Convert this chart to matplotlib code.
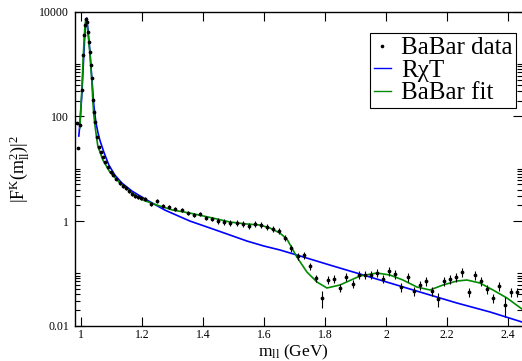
import numpy as np
import matplotlib
matplotlib.use("Agg")
import matplotlib.pyplot as plt
from matplotlib.lines import Line2D

plt.rcParams['font.family'] = ['Liberation Serif', 'DejaVu Serif']
plt.rcParams['mathtext.fontset'] = 'custom'
plt.rcParams['mathtext.rm'] = 'Liberation Serif'
plt.rcParams['mathtext.it'] = 'Liberation Serif'

##############
# BaBar data #
##############

data_m = [0.9869, 0.9902, 0.9967, 1.0033, 1.0066, 1.0098, 1.0131, 1.0164, 1.0197, 1.0229,
          1.0262, 1.0295, 1.0328, 1.0360, 1.0393, 1.0426, 1.0459, 1.0524, 1.0590, 1.0655,
          1.0721, 1.0786, 1.0885, 1.0983, 1.1048, 1.1147, 1.1278, 1.1376, 1.1474, 1.1573,
          1.1671, 1.1769, 1.1868, 1.1966,
          1.21, 1.23, 1.25, 1.27, 1.29, 1.31, 1.33, 1.35, 1.37, 1.39,
          1.41, 1.43, 1.45, 1.47, 1.49, 1.51, 1.53, 1.55, 1.57, 1.59,
          1.61, 1.63, 1.65, 1.67, 1.69, 1.71, 1.73, 1.75, 1.77, 1.79,
          1.81, 1.83, 1.85, 1.87, 1.89, 1.91, 1.93, 1.95, 1.97, 1.99,
          2.01, 2.03, 2.05, 2.07, 2.09, 2.11, 2.13, 2.15, 2.17, 2.19,
          2.21, 2.23, 2.25, 2.27, 2.29, 2.31, 2.33, 2.35, 2.37, 2.39,
          2.41, 2.43]
data_F = [74.7, 24.9, 68.4, 319, 1488, 3587, 5570, 7254, 6357, 4094,
          2636, 1698, 958, 541, 205, 121, 78.0, 40.3, 26.0, 20.8,
          16.7, 13.4, 10.8, 8.65, 7.57, 6.35, 5.33, 4.67, 4.28, 3.74,
          3.28, 3.01, 2.88, 2.75,
          2.64, 2.12, 2.42, 1.94, 1.86, 1.70, 1.63, 1.43, 1.31, 1.37,
          1.15, 1.10, 1.00, 0.96, 0.92, 0.92, 0.88, 0.81, 0.88, 0.84,
          0.77, 0.71, 0.65, 0.48, 0.306, 0.215, 0.225, 0.138, 0.0818, 0.0339,
          0.0749, 0.0783, 0.0527, 0.0855, 0.0628, 0.0933, 0.0933, 0.0933, 0.102, 0.0783,
          0.111, 0.0976, 0.0551, 0.0855, 0.0462, 0.0601, 0.0717, 0.0462, 0.0325, 0.0717,
          0.0783, 0.0855, 0.107, 0.0442, 0.0933, 0.0717, 0.0505, 0.0339, 0.0575, 0.0249,
          0.0442, 0.0442]
# relative errors
data_rel = [0.04] * 26 + [0.07] * 8 + \
           [0.1] * 12 + [0.12] * 11 + [0.15] * 6 + [0.35] + [0.18] * 10 + \
           [0.2] * 8 + [0.3] + [0.2] * 10 + [0.4] + [0.2] * 2

#########
# R chi T
#########

rxt_m = [0.9935, 0.9967, 1.0033, 1.0098, 1.0131, 1.0164, 1.0197, 1.0229, 1.0295, 1.0360,
         1.0426, 1.0492, 1.0557, 1.0623, 1.0754, 1.0917, 1.1114, 1.1343, 1.1671, 1.2163,
         1.2752, 1.3571, 1.4325, 1.4882, 1.5439, 1.5996, 1.6520, 1.7077, 1.8159, 1.9142,
         2.0125, 2.1108, 2.2320, 2.3401, 2.4450]
rxt_F = [42.1, 68.4, 256, 1488, 3587, 6357, 7580, 4882, 1854, 541,
         165, 78.0, 50.2, 35.3, 20.8, 11.8, 7.57, 5.33, 3.75, 2.52,
         1.62, 1.00, 0.704, 0.541, 0.415, 0.333, 0.280, 0.224, 0.144, 0.0972,
         0.0654, 0.0440, 0.0271, 0.0183, 0.01176]

#############
# BaBar fit #
#############

fit_m = [0.9967, 1.0033, 1.0082, 1.0131, 1.0164, 1.0197, 1.0229, 1.0295, 1.0360, 1.0393,
         1.0426, 1.0459, 1.0492, 1.0557, 1.0721, 1.0950, 1.1278, 1.1671, 1.2032, 1.2490,
         1.3014, 1.3571, 1.4325, 1.4882, 1.5439, 1.5865, 1.6193, 1.6520, 1.6750, 1.7077,
         1.7405, 1.7733, 1.8060, 1.8486, 1.9142, 1.9699, 2.0125, 2.0551, 2.1009, 2.1435,
         2.1861, 2.2320, 2.2647, 2.3073, 2.3499, 2.3958, 2.4450]
fit_F = [59.9, 319, 1488, 4882, 7254, 6357, 4278, 1698, 495, 205,
         106, 71.4, 50.2, 27.1, 14.7, 8.65, 5.33, 3.43, 2.52, 2.02,
         1.62, 1.42, 1.14, 0.958, 0.877, 0.839, 0.736, 0.590, 0.453, 0.205,
         0.106, 0.0684, 0.0525, 0.0599, 0.0890, 0.1016, 0.0930, 0.0746, 0.0548, 0.0481,
         0.0599, 0.0714, 0.0746, 0.0654, 0.0481, 0.0338, 0.0208]

x_ticks = [1.0, 1.2, 1.4, 1.6, 1.8, 2.0, 2.2, 2.4]
x_ticklabels = ['1', '1.2', '1.4', '1.6', '1.8', '2', '2.2', '2.4']
y_ticks = [0.01, 1, 100, 10000]
y_ticklabels = ['0.01', '1', '100', '10000']

fig = plt.figure(figsize=(5.22, 3.61), dpi=100)
ax = fig.add_axes([0.1431, 0.0978, 0.8569, 0.8698])

data_m = np.array(data_m)
data_F = np.array(data_F)
yerr = data_F * np.array(data_rel)

ax.plot(rxt_m, rxt_F, color='#0000ff', lw=1.2, zorder=2)
ax.plot(fit_m, fit_F, color='#008c00', lw=1.2, zorder=3)
ax.errorbar(data_m, data_F, yerr=yerr, fmt='o', ms=1.7, color='black',
            ecolor='black', elinewidth=0.8, capsize=0, zorder=4)

ax.set_yscale('log')
ax.set_xlim(0.98, 2.445)
ax.set_ylim(0.01, 10000)

ax.set_xticks(x_ticks)
ax.set_xticklabels(x_ticklabels)
ax.set_yticks(y_ticks)
ax.set_yticklabels(y_ticklabels)
minor = []
for base in [0.01, 1, 100]:
    minor += [k * base for k in range(2, 11)]
ax.set_yticks(minor, minor=True)
ax.yaxis.set_minor_formatter(matplotlib.ticker.NullFormatter())
ax.xaxis.set_minor_locator(matplotlib.ticker.NullLocator())

ax.tick_params(which='major', direction='in', length=6.5, width=0.8,
               top=True, right=True, labelsize=8.5, pad=4)
ax.tick_params(axis='x', which='major', pad=2.5)
ax.tick_params(which='minor', direction='in', length=3.6, width=0.8,
               top=False, right=True)
ax.spines['right'].set_visible(False)
for s in ['left', 'bottom', 'top']:
    ax.spines[s].set_linewidth(1.0)

ax.set_xlabel(r'm$_{\mathrm{ll}}$ (GeV)', fontsize=12.5)
ax.xaxis.set_label_coords(0.488, -0.054)
ax.set_ylabel(r'|F$^{\mathrm{K}}$(m$_{\mathrm{ll}}^{\mathrm{2}}$)|$^{\mathrm{2}}$', fontsize=13)
ax.yaxis.set_label_coords(-0.098, 0.5)

handles = [Line2D([], [], color='black', marker='o', ms=1.6, ls='none'),
           Line2D([], [], color='#0000ff', lw=1.0),
           Line2D([], [], color='#008c00', lw=1.0)]
leg = ax.legend(handles, ['BaBar data', 'R\u03c7T', 'BaBar fit'],
                loc='upper right', bbox_to_anchor=(0.987, 0.932), borderaxespad=0,
                fontsize=18, handlelength=0.68, handletextpad=0.4, borderpad=0.15,
                labelspacing=0.0, fancybox=False, framealpha=1, edgecolor='black')
leg.get_frame().set_linewidth(0.8)

fig.savefig('out.png', dpi=100)
